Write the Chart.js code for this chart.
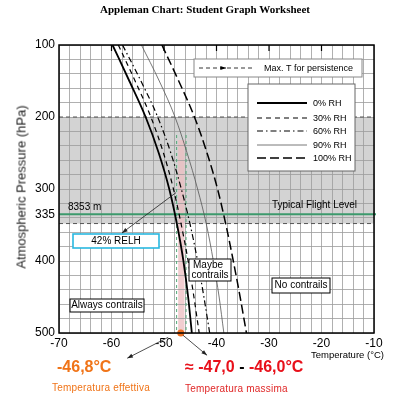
<!DOCTYPE html>
<html>
<head>
<meta charset="utf-8">
<script src="https://cdn.jsdelivr.net/npm/chart.js@4"></script>
<style>
  body { margin: 0; background: #fff; }
  #wrap { position: relative; width: 395px; height: 400px; overflow: hidden; font-family: "Liberation Sans", Arial, sans-serif; }
  #graph { position: absolute; left: 0; top: 0; }
  .t { position: absolute; white-space: nowrap; line-height: 1; }
</style>
</head>
<body>
<div id="wrap">
  <canvas id="graph" width="395" height="400"></canvas>
  <div class="t" style="left:0;width:410px;top:3px;text-align:center;font:bold 11px 'Liberation Serif', 'Times New Roman', serif;">Appleman Chart: Student Graph Worksheet</div>
  <div class="t" style="left:21px;top:187px;font-size:13px;font-weight:normal;color:#222;transform:translate(-50%,-50%) rotate(-90deg);">Atmospheric Pressure (hPa)</div>
  <div class="t" style="left:311px;top:350px;font-size:9.5px;">Temperature (°C)</div>
  <div class="t" style="left:57px;top:359px;font-size:16px;font-weight:bold;color:#f07418;">-46,8°C</div>
  <div class="t" style="left:52px;top:383px;font-size:10px;letter-spacing:0.2px;color:#f07418;">Temperatura effettiva</div>
  <div class="t" style="left:185px;top:359px;font-size:16px;font-weight:bold;color:#e8101a;">≈ -47,0 <span style="color:#000">-</span> -46,0°C</div>
  <div class="t" style="left:185px;top:384px;font-size:10px;letter-spacing:0.2px;color:#e02828;">Temperatura massima</div>
</div>
<script>
// pressure levels (hPa) and temperature (°C)
const pressure = [100, 150, 200, 250, 300, 350, 400, 450, 500]
const rh0   = [-59.8, -56.6, -53.5, -51.0, -49.0, -47.5, -46.3, -45.4, -44.7]
const rh30  = [-58.7, -55.5, -52.5, -50.1, -48.2, -46.7, -45.4, -44.3, -43.3]
const rh60  = [-57.9, -54.4, -51.2, -48.7, -46.7, -45.0, -43.6, -42.4, -41.3]
const rh90  = [-54.3, -50.9, -47.9, -45.6, -43.6, -41.9, -40.6, -39.5, -38.6]
const rh100 = [-50.4, -47.2, -44.2, -41.8, -39.8, -38.2, -36.8, -35.5, -34.3]
const rhLabels = ['0% RH', '30% RH', '60% RH', '90% RH', '100% RH']

const yLabels = [100, 200, 300, 335, 400, 500]
const flightLevel = 335
const actualTemp = -46.8

const styles = [
  { color: '#000', width: 1.8, dash: [] },
  { color: '#000', width: 1.2, dash: [5, 4] },
  { color: '#000', width: 1.2, dash: [6, 3, 1.5, 3] },
  { color: '#555', width: 0.8, dash: [] },
  { color: '#000', width: 1.5, dash: [9, 4] }
]

const series = [rh0, rh30, rh60, rh90, rh100]
const datasets = series.map((temps, i) => ({
  label: rhLabels[i],
  data: temps.map((t, k) => ({ x: t, y: pressure[k] })),
  showLine: true,
  borderColor: styles[i].color,
  borderWidth: styles[i].width,
  borderDash: styles[i].dash,
  pointRadius: 0,
  cubicInterpolationMode: 'monotone',
  fill: false
}))
datasets.push({
  label: 'actual',
  data: [{ x: actualTemp, y: 500 }],
  showLine: false,
  pointRadius: 3.5,
  backgroundColor: '#f07020',
  borderWidth: 0,
  clip: false
})

function arrow(ctx, x1, y1, x2, y2) {
  ctx.beginPath()
  ctx.moveTo(x1, y1)
  ctx.lineTo(x2, y2)
  ctx.stroke()
  let a = Math.atan2(y2 - y1, x2 - x1)
  ctx.beginPath()
  ctx.moveTo(x2, y2)
  ctx.lineTo(x2 - 6 * Math.cos(a - 0.35), y2 - 6 * Math.sin(a - 0.35))
  ctx.lineTo(x2 - 6 * Math.cos(a + 0.35), y2 - 6 * Math.sin(a + 0.35))
  ctx.closePath()
  ctx.fill()
}

function box(ctx, x, y, w, h, color, lw) {
  ctx.fillStyle = '#fff'
  ctx.fillRect(x, y, w, h)
  ctx.strokeStyle = color
  ctx.lineWidth = lw
  ctx.setLineDash([])
  ctx.strokeRect(x, y, w, h)
}

const decor = {
  id: 'decor',
  beforeDraw(c) {
    const ctx = c.ctx, a = c.chartArea
    const X = v => c.scales.x.getPixelForValue(v)
    const Y = v => c.scales.y.getPixelForValue(v)
    ctx.save()
    ctx.fillStyle = '#fff'
    ctx.fillRect(0, 0, c.width, c.height)
    ctx.fillStyle = '#d3d3d3'
    ctx.fillRect(a.left, Y(200), a.right - a.left, Y(348) - Y(200))
    ctx.fillStyle = 'rgba(236,190,192,0.75)'
    ctx.fillRect(X(-47.3), Y(232), X(-46.1) - X(-47.3), Y(500) - Y(232))
    ctx.restore()
  },
  beforeDatasetsDraw(c) {
    const ctx = c.ctx, a = c.chartArea
    const X = v => c.scales.x.getPixelForValue(v)
    const Y = v => c.scales.y.getPixelForValue(v)
    ctx.save()
    ctx.strokeStyle = '#555'
    ctx.lineWidth = 1
    ctx.setLineDash([4, 3])
    ;[200, 348].forEach(p => {
      ctx.beginPath(); ctx.moveTo(a.left, Y(p)); ctx.lineTo(a.right, Y(p)); ctx.stroke()
    })
    ctx.strokeStyle = '#55a878'
    ctx.setLineDash([3, 3])
    ;[-47.6, -45.8].forEach(t => {
      ctx.beginPath(); ctx.moveTo(X(t), Y(225)); ctx.lineTo(X(t), Y(500)); ctx.stroke()
    })
    ctx.setLineDash([])
    ctx.strokeStyle = '#3c9a6c'
    ctx.lineWidth = 2
    ctx.beginPath(); ctx.moveTo(a.left, Y(flightLevel)); ctx.lineTo(a.right + 2, Y(flightLevel)); ctx.stroke()
    ctx.restore()
  },
  afterDatasetsDraw(c) {
    const ctx = c.ctx, a = c.chartArea
    const X = v => c.scales.x.getPixelForValue(v)
    const Y = v => c.scales.y.getPixelForValue(v)
    ctx.save()
    // frame
    ctx.strokeStyle = '#000'
    ctx.lineWidth = 1.5
    ctx.strokeRect(a.left, a.top, a.right - a.left, a.bottom - a.top)
    ctx.lineWidth = 1.2
    for (let t = -60; t < -10; t += 10) {
      ctx.beginPath(); ctx.moveTo(X(t), a.top); ctx.lineTo(X(t), a.top + 6); ctx.stroke()
    }

    ctx.font = '9px "Liberation Sans", Arial, sans-serif'
    ctx.textBaseline = 'middle'

    // legend: max T for persistence
    box(ctx, 194, 59, 168, 18, '#888', 1)
    ctx.strokeStyle = '#000'; ctx.fillStyle = '#000'; ctx.lineWidth = 0.8
    ctx.setLineDash([4, 3])
    ctx.beginPath(); ctx.moveTo(199, 68); ctx.lineTo(252, 68); ctx.stroke()
    ctx.setLineDash([])
    arrow(ctx, 220, 68, 226, 68)
    ctx.fillText('Max. T for persistence', 264, 68.5)

    // legend: RH curves
    box(ctx, 248, 84, 107, 87, '#666', 1)
    const rows = [103, 118, 131, 145, 158]
    rows.forEach((ry, i) => {
      ctx.strokeStyle = styles[i].color
      ctx.lineWidth = styles[i].width
      ctx.setLineDash(styles[i].dash)
      ctx.beginPath(); ctx.moveTo(257, ry); ctx.lineTo(307, ry); ctx.stroke()
      ctx.fillStyle = '#000'
      ctx.fillText(rhLabels[i], 313, ry + 0.5)
    })
    ctx.setLineDash([])

    // flight level labels
    ctx.font = '10px "Liberation Sans", Arial, sans-serif'
    ctx.fillStyle = '#000'
    ctx.fillText('8353 m', 68, Y(flightLevel) - 7)
    ctx.fillText('Typical Flight Level', 272, Y(flightLevel) - 9)

    // region boxes
    ctx.textAlign = 'center'
    box(ctx, 73, 234, 86, 14, '#2ab8e0', 1.6)
    ctx.fillStyle = '#000'
    ctx.fillText('42% RELH', 116, 241.5)
    box(ctx, 70, 299, 74, 13, '#000', 1)
    ctx.fillStyle = '#000'
    ctx.fillText('Always contrails', 107, 305.5)
    box(ctx, 189, 259, 42, 22, '#000', 1)
    ctx.fillStyle = '#000'
    ctx.fillText('Maybe', 208, 265)
    ctx.fillText('contrails', 210, 275)
    box(ctx, 272, 278, 58, 15, '#000', 1)
    ctx.fillStyle = '#000'
    ctx.fillText('No contrails', 301, 285.5)

    // arrows
    ctx.strokeStyle = '#222'; ctx.fillStyle = '#222'; ctx.lineWidth = 0.8
    arrow(ctx, X(-47.7), Y(305), X(-58.0), Y(361))
    arrow(ctx, X(-49.2), Y(506), X(-57.0), Y(535))
    arrow(ctx, X(-46.4), Y(503), X(-41.8), Y(531))
    ctx.restore()
  }
}

const chart = new Chart(document.getElementById('graph'), {
  type: 'scatter',
  data: { datasets: datasets },
  plugins: [decor],
  options: {
    responsive: false,
    animation: false,
    layout: { padding: { top: 45, right: 21, left: 0, bottom: 0 } },
    plugins: { legend: { display: false }, tooltip: { enabled: false } },
    scales: {
      x: {
        type: 'linear', min: -70, max: -10,
        afterFit: s => { s.height = 67 },
        border: { display: false },
        grid: { color: '#9c9c9c', lineWidth: 0.8, drawTicks: false },
        ticks: {
          stepSize: 2, autoSkip: false, maxRotation: 0, padding: 3,
          color: '#000', font: { size: 12, family: '"Liberation Sans", Arial' },
          callback: v => (v % 10 === 0 ? String(v) : '')
        }
      },
      y: {
        type: 'linear', min: 100, max: 500, reverse: true,
        afterFit: s => { s.width = 59 },
        afterBuildTicks: s => {
          let t = []
          for (let p = 100; p <= 500; p += 20) t.push({ value: p })
          t.push({ value: flightLevel })
          s.ticks = t
        },
        border: { display: false },
        grid: {
          color: ctx => (ctx.tick && ctx.tick.value === flightLevel ? 'rgba(0,0,0,0)' : '#9c9c9c'),
          lineWidth: 0.8, drawTicks: false
        },
        ticks: {
          autoSkip: false, padding: 4,
          color: '#000', font: { size: 12, family: '"Liberation Sans", Arial' },
          callback: v => (yLabels.includes(v) ? String(v) : '')
        }
      }
    }
  }
})
</script>
</body>
</html>
